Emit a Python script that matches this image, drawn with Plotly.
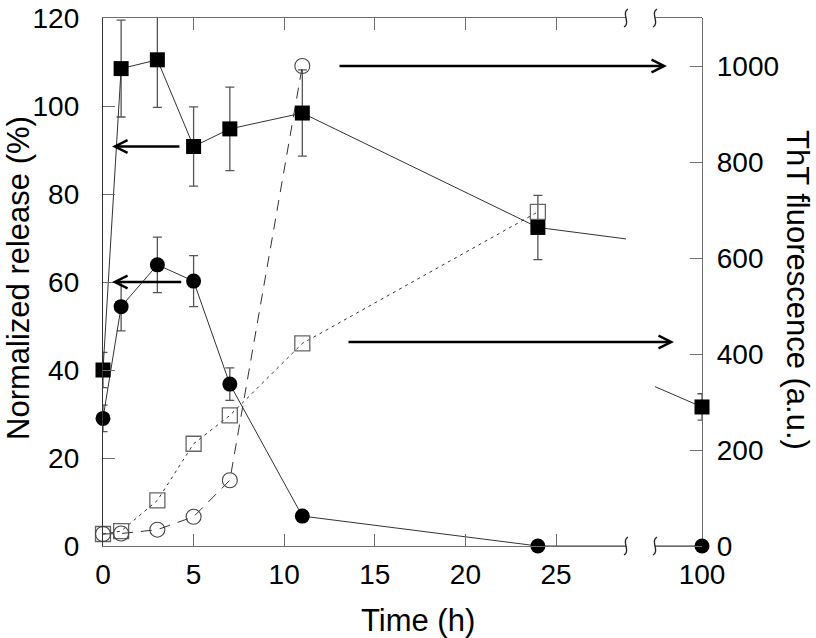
import plotly.graph_objects as go

# ---- data ----
time_h = [0, 1, 3, 5, 7, 11, 24, 100]

# filled squares / filled circles: normalized release (%), left axis
release_sq = [40, 108.5, 110.5, 90.8, 94.8, 98.4, 72.4, 31.6]
release_sq_err = [4, 11, 10.8, 9, 9.5, 9.8, 7.3, 3]
release_ci = [29, 54.4, 63.9, 60.2, 36.8, 6.8, 0, 0]
release_ci_err = [3, 5.5, 6.3, 5.8, 3.7, 0, 0, 0]

# open circles / open squares: ThT fluorescence (a.u.), right axis
tht_ci_time = [0, 1, 3, 5, 7, 11]
tht_ci = [25, 26, 34, 61, 137, 1000]
tht_sq_time = [0, 1, 3, 5, 7, 11, 24]
tht_sq = [25, 31, 95, 213, 272, 422, 696]

x_ticks = [0, 5, 10, 15, 20, 25]
y_ticks = [0, 20, 40, 60, 80, 100, 120]
y2_ticks = [0, 200, 400, 600, 800, 1000]

FONT = "Arial, Liberation Sans, sans-serif"
AX = "#6e6e6e"
LINE = "#333333"
ERR = "#555555"
W, H = 816, 638
# plot area in page pixels
PL, PR, PT, PB = 103, 702, 18, 546
X_BREAK_END = (626 - PL) / (PR - PL)
X2_START = (655 - PL) / (PR - PL)
X_RANGE = [0, (626 - PL) / 18.12]


def fx(px):
    return (px - PL) / (PR - PL)


def fy(py):
    return (PB - py) / (PB - PT)


fig = go.Figure()

# open squares (dotted) and open circles (dashed) on right axis
fig.add_trace(go.Scatter(
    x=tht_sq_time, y=tht_sq, xaxis="x", yaxis="y2", mode="lines+markers",
    line=dict(color=LINE, width=1, dash="3px,4px"),
    marker=dict(symbol="square-open", size=15, color="#666666", line=dict(width=1.3)),
    cliponaxis=False, showlegend=False))
fig.add_trace(go.Scatter(
    x=tht_ci_time, y=tht_ci, xaxis="x", yaxis="y2", mode="lines+markers",
    line=dict(color=LINE, width=1, dash="11px,8px"),
    marker=dict(symbol="circle-open", size=15, color="#444444", line=dict(width=1.1)),
    cliponaxis=False, showlegend=False))


def add_filled(values, errors, symbol):
    # error bars on the main subplot, clipped to the plot area
    fig.add_trace(go.Scatter(
        x=time_h, y=values, xaxis="x", yaxis="y", mode="markers",
        marker=dict(size=1, opacity=0),
        error_y=dict(type="data", array=errors, color=ERR, thickness=1.3, width=4.5),
        cliponaxis=True, showlegend=False))
    # line + markers on an overlaid copy of the x axis (markers not clipped)
    fig.add_trace(go.Scatter(
        x=time_h, y=values, xaxis="x3", yaxis="y", mode="lines+markers",
        line=dict(color=LINE, width=1),
        marker=dict(symbol=symbol, size=15, color="black"),
        cliponaxis=False, showlegend=False))
    # segment after the axis break
    fig.add_trace(go.Scatter(
        x=time_h[-2:], y=values[-2:], xaxis="x2", yaxis="y", mode="lines",
        line=dict(color=LINE, width=1), showlegend=False))
    fig.add_trace(go.Scatter(
        x=time_h[-1:], y=values[-1:], xaxis="x2", yaxis="y", mode="markers",
        marker=dict(symbol=symbol, size=15, color="black"),
        error_y=dict(type="data", array=errors[-1:], color=ERR, thickness=1.3, width=4.5),
        cliponaxis=False, showlegend=False))


add_filled(release_ci, release_ci_err, "circle")
add_filled(release_sq, release_sq_err, "square")

tick_font = dict(family=FONT, size=28, color="black")
common = dict(showgrid=False, zeroline=False, automargin=False, tickfont=tick_font,
              showline=True, linewidth=1.3, ticklabeloverflow="allow")

fig.update_layout(
    template="none",
    width=W, height=H,
    margin=dict(l=PL, r=W - PR, t=PT, b=H - PB, pad=0),
    paper_bgcolor="white", plot_bgcolor="rgba(0,0,0,0)",
    font=dict(family=FONT, color="black"),
    xaxis=dict(domain=[0, X_BREAK_END], range=X_RANGE, tickvals=x_ticks,
               ticks="inside", ticklen=12, tickcolor=AX, linecolor=AX,
               mirror="ticks", ticklabelstandoff=3, anchor="y", **common),
    xaxis2=dict(domain=[X2_START, 1], range=[91.4, 100], tickvals=[100],
                ticks="", linecolor=AX, mirror=True, ticklabelstandoff=3,
                anchor="y", **common),
    xaxis3=dict(overlaying="x", range=X_RANGE, visible=False, anchor="y"),
    yaxis=dict(range=[0, 120], tickvals=y_ticks, ticks="inside", ticklen=12,
               tickcolor=AX, linecolor="#333333", ticklabelstandoff=17,
               anchor="x", **common),
    yaxis2=dict(range=[0, 1100], tickvals=y2_ticks, ticks="inside", ticklen=12,
                tickcolor=AX, linecolor=AX, ticklabelstandoff=8,
                overlaying="y", side="right", anchor="free", position=1, **common),
)

# axis titles
title_font = dict(family=FONT, size=31, color="black")
fig.add_annotation(text="Time (h)", xref="paper", yref="paper", x=fx(418), y=fy(620),
                   xanchor="center", yanchor="middle", showarrow=False, font=title_font)
fig.add_annotation(text="Normalized release (%)", xref="paper", yref="paper",
                   x=fx(18), y=fy(278), xanchor="center", yanchor="middle",
                   textangle=-90, showarrow=False, font=title_font)
fig.add_annotation(text="ThT fluorescence (a.u.)", xref="paper", yref="paper",
                   x=fx(798), y=fy(290), xanchor="center", yanchor="middle",
                   textangle=90, showarrow=False, font=title_font)

# arrows pointing to the axis each curve belongs to
arrow = dict(showarrow=True, text="", arrowhead=5, arrowwidth=2.5, arrowsize=1,
             arrowcolor="black")
fig.add_annotation(x=0.5, y=90.8, xref="x", yref="y", ax=4.3, ay=90.8,
                   axref="x", ayref="y", **arrow)
fig.add_annotation(x=0.5, y=60, xref="x", yref="y", ax=4.4, ay=60,
                   axref="x", ayref="y", **arrow)
fig.add_annotation(x=fx(667), y=1000, xref="paper", yref="y2",
                   ax=-(667 - 338), ay=0, axref="pixel", ayref="pixel", **arrow)
fig.add_annotation(x=fx(674), y=425, xref="paper", yref="y2",
                   ax=-(674 - 347), ay=0, axref="pixel", ayref="pixel", **arrow)

# axis-break squiggles, top and bottom
squiggle = "M -2,-9 C 5,-5 -5,5 2,9"
for xb in [X_BREAK_END, X2_START]:
    for yb in [0, 1]:
        fig.add_shape(type="path", path=squiggle, xref="paper", yref="paper",
                      xsizemode="pixel", ysizemode="pixel", xanchor=xb, yanchor=yb,
                      line=dict(color="#222222", width=1.3))

# drop the default page margin so the figure fills the window exactly
fig.write_html("out.html", config={"displayModeBar": False},
               post_script="document.body.style.margin = '0';")
